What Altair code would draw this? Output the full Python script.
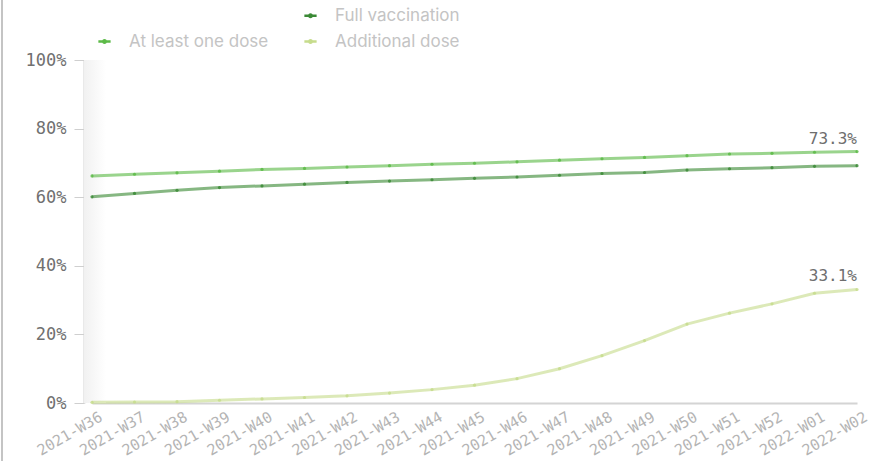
import altair as alt
import pandas as pd

# Weekly vaccination coverage (% of population)
weeks = [
    "2021-W36", "2021-W37", "2021-W38", "2021-W39", "2021-W40", "2021-W41",
    "2021-W42", "2021-W43", "2021-W44", "2021-W45", "2021-W46", "2021-W47",
    "2021-W48", "2021-W49", "2021-W50", "2021-W51", "2021-W52", "2022-W01",
    "2022-W02",
]
at_least_one_dose = [66.2, 66.7, 67.1, 67.6, 68.1, 68.4, 68.8, 69.2, 69.6, 69.9,
                     70.3, 70.8, 71.2, 71.6, 72.1, 72.6, 72.8, 73.1, 73.3]
full_vaccination = [60.1, 61.1, 62.0, 62.8, 63.3, 63.8, 64.3, 64.7, 65.1, 65.5,
                    65.9, 66.4, 66.9, 67.2, 67.9, 68.3, 68.6, 69.0, 69.2]
additional_dose = [0.2, 0.3, 0.4, 0.8, 1.2, 1.6, 2.1, 2.9, 3.9, 5.2,
                   7.1, 10.0, 13.8, 18.2, 23.0, 26.2, 28.9, 32.0, 33.1]

series = {
    "At least one dose": at_least_one_dose,
    "Full vaccination": full_vaccination,
    "Additional dose": additional_dose,
}
labelled = ["At least one dose", "Additional dose"]

rows = []
for name, vals in series.items():
    for i, (w, v) in enumerate(zip(weeks, vals)):
        rows.append({"week": w, "series": name, "value": v,
                     "last": i == len(weeks) - 1 and name in labelled})
df = pd.DataFrame(rows)

# blank first entry keeps the legend's first column empty on the top row
legend_domain = ["", "At least one dose", "Full vaccination", "Additional dose"]
legend_range = ["transparent", "#5cba47", "#3b8a36", "#c6dc8c"]

MONO = "DejaVu Sans Mono"

x_enc = alt.X("week:O", sort=weeks,
              scale=alt.Scale(type="point", range=[8, 773], padding=0),
              axis=alt.Axis(title=None, labelAngle=330, labelAlign="right",
                            labelBaseline="top", labelPadding=6, labelOffset=5,
                            ticks=False, labelFont=MONO, labelFontSize=15,
                            labelColor="#b4b4b4", domainColor="#d4d4d4",
                            domainWidth=2, grid=False))
y_enc = alt.Y("value:Q", scale=alt.Scale(domain=[0, 100]),
              axis=alt.Axis(title=None, values=[0, 20, 40, 60, 80, 100],
                            labelExpr="datum.value + '%'", grid=False,
                            labelFont=MONO, labelFontSize=17, labelColor="#707070",
                            tickSize=10, tickColor="#cfcfcf", labelPadding=8,
                            domainColor="#d4d4d4", domainWidth=2))

# legend marker: short line with a dot in the middle
legend_symbol = ("M-1,0L1,0"
                 "M-0.2,0A0.2,0.2,0,1,1,0.2,0A0.2,0.2,0,1,1,-0.2,0")

color_enc = alt.Color(
    "series:N",
    scale=alt.Scale(domain=legend_domain, range=legend_range),
    legend=alt.Legend(title=None, orient="none", legendX=12, legendY=-53,
                      columns=2, columnPadding=30, rowPadding=8,
                      symbolType=legend_symbol, symbolSize=150,
                      symbolStrokeWidth=2.6, symbolOpacity=1,
                      labelFont="Inter", labelFontSize=17,
                      labelColor="#c4c4c4", labelOffset=16),
)

base = alt.Chart(df)

shade = alt.Chart(df).mark_rect(
    color=alt.Gradient(gradient="linear", x1=0, x2=1, y1=0, y2=0,
                       stops=[alt.GradientStop(color="#f1f1f1", offset=0),
                              alt.GradientStop(color="#ffffff", offset=1)])
).encode(x=alt.value(0), x2=alt.value(22), y=alt.value(0), y2=alt.value(343))

border = alt.Chart(df).mark_rule(color="#c4c4c4", strokeWidth=2).encode(
    x=alt.value(-82), y=alt.value(-60), y2=alt.value(401))

lines = base.mark_line(strokeWidth=3, opacity=0.62).encode(
    x=x_enc, y=y_enc, color=color_enc)

points = base.mark_point(filled=True, size=10, opacity=0.85).encode(
    x=x_enc, y=y_enc, color=color_enc)

labels = base.transform_filter("datum.last").transform_calculate(
    lbl="format(datum.value, '.1f') + '%'"
).mark_text(
    align="right", baseline="bottom", dy=-5, font=MONO, fontSize=16, color="#6e6e6e"
).encode(x=x_enc, y=y_enc, text="lbl:N")

chart = alt.layer(shade, border, lines, points, labels).properties(
    width=791, height=343,
    background="white",
    autosize=alt.AutoSizeParams(type="none"),
    padding={"left": 84, "top": 60, "right": 0, "bottom": 58},
).configure_view(stroke=None)

chart.save("out.html", embed_options={"renderer": "svg", "actions": False})
